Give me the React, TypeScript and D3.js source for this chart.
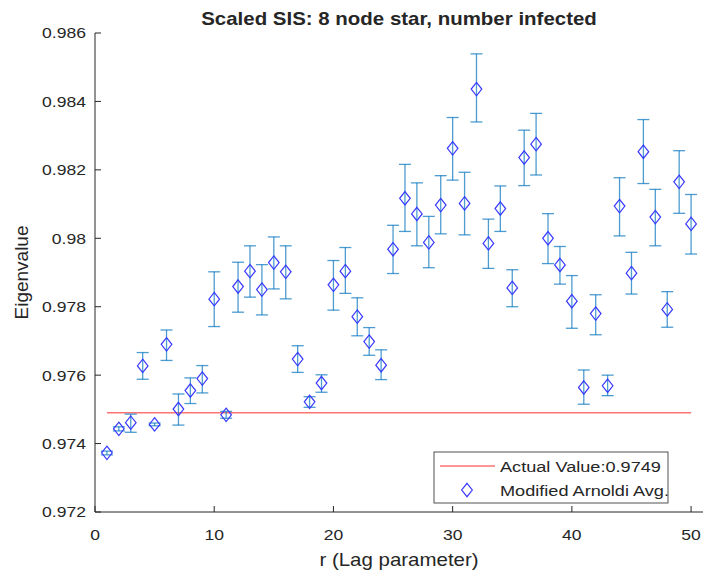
import React from "react";
import * as d3 from "d3";

const lags = [1,2,3,4,5,6,7,8,9,10,11,12,13,14,15,16,17,18,19,20,21,22,23,24,25,26,27,28,29,30,31,32,33,34,35,36,37,38,39,40,41,42,43,44,45,46,47,48,49,50];
const avgValues = [0.97373,0.97443,0.97461,0.97627,0.97456,0.97690,0.97501,0.97555,0.97590,0.97822,
  0.97484,0.97859,0.97904,0.97850,0.97929,0.97902,0.97647,0.97522,0.97577,0.97864,
  0.97904,0.97771,0.97698,0.97629,0.97968,0.98117,0.98071,0.97988,0.98097,0.98263,
  0.98102,0.98436,0.97985,0.98087,0.97855,0.98236,0.98275,0.98000,0.97922,0.97816,
  0.97564,0.97780,0.97569,0.98094,0.97898,0.98253,0.98062,0.97792,0.98165,0.98042];
const lowerValues = [0.97367,0.97437,0.97433,0.97588,0.97452,0.97643,0.97454,0.97517,0.97548,0.97742,
  0.97474,0.97784,0.97828,0.97776,0.97852,0.97823,0.97608,0.97506,0.97550,0.97790,
  0.97839,0.97715,0.97658,0.97587,0.97897,0.98020,0.97978,0.97914,0.98013,0.98170,
  0.98010,0.98340,0.97912,0.98020,0.97800,0.98154,0.98185,0.97926,0.97866,0.97737,
  0.97515,0.97718,0.97540,0.98007,0.97837,0.98160,0.97978,0.97740,0.98073,0.97954];
const upperValues = [0.97378,0.97449,0.97486,0.97666,0.97460,0.97732,0.97545,0.97592,0.97628,0.97902,
  0.97494,0.97930,0.97978,0.97923,0.98004,0.97978,0.97686,0.97537,0.97601,0.97935,
  0.97973,0.97826,0.97739,0.97674,0.98038,0.98216,0.98162,0.98064,0.98183,0.98353,
  0.98193,0.98539,0.98056,0.98153,0.97908,0.98316,0.98365,0.98072,0.97976,0.97891,
  0.97615,0.97835,0.97600,0.98177,0.97959,0.98347,0.98143,0.97844,0.98256,0.98128];
const actualValue = 0.9749;
const actualRange = [1, 50];
const xTicks = [0, 10, 20, 30, 40, 50];
const yTicks = [0.972, 0.974, 0.976, 0.978, 0.98, 0.982, 0.984, 0.986];
const yTickLabels = ["0.972", "0.974", "0.976", "0.978", "0.98", "0.982", "0.984", "0.986"];
const titleText = "Scaled SIS: 8 node star, number infected";
const xLabel = "r (Lag parameter)";
const yLabel = "Eigenvalue";
const legendLabels = ["Actual Value:0.9749", "Modified Arnoldi Avg."];

const FONT = "'Liberation Sans', Arial, Helvetica, sans-serif";
const AX = "#262626";
const SX = 1.17;

function SText({ x, y, anchor = "start", size, weight = "normal", children, dy = "0" }: any) {
  return (
    <text
      transform={`translate(${x},${y}) scale(${SX},1)`}
      textAnchor={anchor}
      fontSize={size}
      fontWeight={weight}
      fontFamily={FONT}
      fill={AX}
      dy={dy}
    >
      {children}
    </text>
  );
}

export default function App() {
  const W = 705, H = 577;
  const x = d3.scaleLinear().domain([0, 51]).range([95, 703]);
  const y = d3.scaleLinear().domain([0.972, 0.986]).range([512, 33]);
  const tick = 6;
  const cap = 6;
  const dw = 5.3, dh = 6.7;
  const diamond = (cx: number, cy: number) =>
    `M${cx},${cy - dh}L${cx + dw},${cy}L${cx},${cy + dh}L${cx - dw},${cy}Z`;
  const line = d3.line<number>().x((d) => x(d)).y(() => y(actualValue));

  return (
    <svg width={W} height={H} style={{ position: "absolute", left: 0, top: 0, background: "#fff" }}>
      <rect x={0} y={0} width={W} height={H} fill="#fff" />
      {/* axes */}
      <line x1={x(0)} x2={x(51)} y1={y(0.972)} y2={y(0.972)} stroke={AX} strokeWidth={1} />
      <line x1={x(0)} x2={x(0)} y1={y(0.972)} y2={y(0.986)} stroke={AX} strokeWidth={1} />
      {xTicks.map((t) => (
        <g key={"xt" + t}>
          <line x1={x(t)} x2={x(t)} y1={y(0.972)} y2={y(0.972) - tick} stroke={AX} />
          <SText x={x(t)} y={540} anchor="middle" size={15}>{String(t)}</SText>
        </g>
      ))}
      {yTicks.map((t, i) => (
        <g key={"yt" + t}>
          <line x1={x(0)} x2={x(0) + tick} y1={y(t)} y2={y(t)} stroke={AX} />
          <SText x={86} y={y(t)} anchor="end" size={15} dy="0.36em">{yTickLabels[i]}</SText>
        </g>
      ))}
      {/* actual value line */}
      <path d={line(actualRange) || ""} stroke="#ff5a5a" strokeOpacity={0.85} strokeWidth={1.6} fill="none" />
      {/* error bars */}
      {lags.map((l, i) => (
        <g key={"eb" + l} stroke="#0072BD" strokeOpacity={0.7} strokeWidth={1.3}>
          <line x1={x(l)} x2={x(l)} y1={y(lowerValues[i])} y2={y(upperValues[i])} />
          <line x1={x(l) - cap} x2={x(l) + cap} y1={y(lowerValues[i])} y2={y(lowerValues[i])} />
          <line x1={x(l) - cap} x2={x(l) + cap} y1={y(upperValues[i])} y2={y(upperValues[i])} />
        </g>
      ))}
      {/* markers */}
      {lags.map((l, i) => (
        <path key={"m" + l} d={diamond(x(l), y(avgValues[i]))} fill="none" stroke="#3838ff" strokeWidth={1.2} />
      ))}
      {/* title and labels */}
      <SText x={399} y={25} anchor="middle" size={17.5} weight="bold">{titleText}</SText>
      <SText x={399} y={566} anchor="middle" size={17.5}>{xLabel}</SText>
      <text
        transform={`translate(28,${(y(0.972) + y(0.986)) / 2}) rotate(-90)`}
        textAnchor="middle"
        fontSize={19}
        fontFamily={FONT}
        fill={AX}
      >
        {yLabel}
      </text>
      {/* legend */}
      <rect x={434} y={452} width={234} height={51} fill="#fff" stroke={AX} strokeWidth={0.8} />
      <line x1={440} x2={495} y1={466} y2={466} stroke="#ff5a5a" strokeOpacity={0.85} strokeWidth={1.6} />
      <SText x={500} y={466} size={15.5} dy="0.36em">{legendLabels[0]}</SText>
      <path d={diamond(467, 490)} fill="none" stroke="#3838ff" strokeWidth={1.2} />
      <SText x={500} y={490} size={15.5} dy="0.36em">{legendLabels[1]}</SText>
    </svg>
  );
}
